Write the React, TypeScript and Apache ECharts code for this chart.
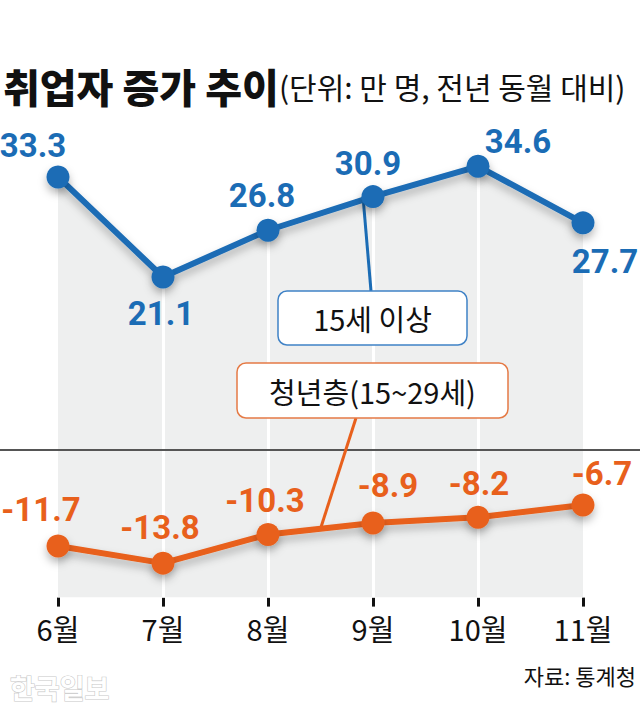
import React, { useEffect, useRef } from 'react';
import * as echarts from 'echarts';

const months = ['6월', '7월', '8월', '9월', '10월', '11월'];
const totalEmployed = [33.3, 21.1, 26.8, 30.9, 34.6, 27.7];
const youthEmployed = [-11.7, -13.8, -10.3, -8.9, -8.2, -6.7];
const seriesNames = ['15세 이상', '청년층(15~29세)'];
const titleMain = '취업자 증가 추이';
const titleUnit = '(단위: 만 명, 전년 동월 대비)';
const sourceText = '자료: 통계청';
const brandText = '한국일보';

const Y_MIN = -18;
const Y_MAX = 40;

const BLUE = '#1b6cb5';
const ORANGE = '#e8601c';
const AREA = '#eeefef';
const KR = '"Noto Sans CJK KR", "Noto Sans", sans-serif';
const NUM = 'Roboto, "Noto Sans", sans-serif';

const blueLabelOffsets = [[-25, -31], [-2, 37], [-6, -35], [-5, -33], [40, -25], [22, 39]];
const orangeLabelOffsets = [[-17, -36], [-3, -36], [-3, -34], [15, -37], [1, -34], [19, -31]];

const fmt = (v: number) => v.toFixed(1);

export default function App() {
  const ref = useRef<HTMLDivElement>(null);
  useEffect(() => {
    document.body.style.margin = '0';
    if (!ref.current) return;
    const chart = echarts.init(ref.current, null, { renderer: 'svg' });
    const shadow = { shadowColor: 'rgba(0,0,0,0.28)', shadowBlur: 8, shadowOffsetY: 5 };
    const option: any = {
      animation: false,
      backgroundColor: '#ffffff',
      grid: { left: 58, right: 57, top: 122, bottom: 116.4 },
      xAxis: {
        type: 'category',
        data: months,
        boundaryGap: false,
        axisLine: { show: true, onZero: false, lineStyle: { opacity: 0, width: 0 } },
        axisTick: { show: true, length: 9, lineStyle: { color: '#111', width: 3 } },
        axisLabel: { fontSize: 29, color: '#111', margin: 16, fontFamily: KR },
        splitLine: { show: false },
      },
      yAxis: {
        type: 'value',
        min: Y_MIN,
        max: Y_MAX,
        show: false,
        splitLine: { show: false },
      },
      series: [
        {
          type: 'line',
          data: totalEmployed,
          symbol: 'none',
          lineStyle: { width: 0, opacity: 0 },
          areaStyle: { color: AREA, origin: 'start', opacity: 1 },
          z: 1,
          silent: true,
          markLine: {
            silent: true,
            z: 2,
            symbol: ['none', 'none'],
            label: { show: false },
            lineStyle: { color: '#ffffff', width: 3, type: 'solid' },
            data: months.slice(1, -1).map((m, i) => [
              { coord: [m, Y_MIN] },
              { coord: [m, totalEmployed[i + 1]] },
            ]),
          },
        },
        {
          name: seriesNames[0],
          type: 'line',
          z: 4,
          data: totalEmployed.map((v, i) => ({ value: v, label: { offset: blueLabelOffsets[i] } })),
          symbol: 'circle',
          symbolSize: 23,
          lineStyle: { color: BLUE, width: 6, ...shadow },
          itemStyle: { color: BLUE, ...shadow },
          label: {
            show: true,
            position: 'inside',
            formatter: (p: any) => fmt(p.value),
            color: BLUE,
            fontSize: 33,
            fontWeight: 'bold',
            fontFamily: NUM,
          },
        },
        {
          name: seriesNames[1],
          type: 'line',
          z: 4,
          data: youthEmployed.map((v, i) => ({ value: v, label: { offset: orangeLabelOffsets[i] } })),
          symbol: 'circle',
          symbolSize: 23,
          lineStyle: { color: ORANGE, width: 6, ...shadow },
          itemStyle: { color: ORANGE, ...shadow },
          label: {
            show: true,
            position: 'inside',
            formatter: (p: any) => fmt(p.value),
            color: ORANGE,
            fontSize: 33,
            fontWeight: 'bold',
            fontFamily: NUM,
          },
        },
      ],
    };
    chart.setOption(option);

    const y0 = chart.convertToPixel({ yAxisIndex: 0 }, 0) as number;
    const p9 = chart.convertToPixel({ seriesIndex: 1 }, [3, totalEmployed[3]]) as number[];
    const o8 = chart.convertToPixel({ seriesIndex: 2 }, [2, youthEmployed[2]]) as number[];
    const o9 = chart.convertToPixel({ seriesIndex: 2 }, [3, youthEmployed[3]]) as number[];
    const oMid = [(o8[0] + o9[0]) / 2, (o8[1] + o9[1]) / 2];

    const blueBox = { x: 278, y: 291, w: 189, h: 54 };
    const orangeBox = { x: 237, y: 363, w: 271, h: 55 };

    chart.setOption({
      graphic: [
        {
          type: 'text',
          left: 3,
          top: 66,
          z: 10,
          style: {
            text: `{a|${titleMain}}{b|${titleUnit}}`,
            rich: {
              a: { fontSize: 40, fontWeight: 900, fontFamily: KR, fill: '#111', verticalAlign: 'middle' },
              b: { fontSize: 30, fontWeight: 400, fontFamily: KR, fill: '#111', verticalAlign: 'middle' },
            },
          },
        },
        {
          type: 'line',
          z: 3,
          silent: true,
          shape: { x1: 0, y1: y0, x2: 640, y2: y0 },
          style: { stroke: '#555', lineWidth: 2 },
        },
        {
          type: 'line',
          z: 3,
          shape: { x1: p9[0] - 10, y1: p9[1], x2: p9[0] - 2, y2: blueBox.y },
          style: { stroke: BLUE, lineWidth: 3 },
        },
        {
          type: 'line',
          z: 3,
          shape: { x1: 356, y1: orangeBox.y + orangeBox.h, x2: oMid[0], y2: oMid[1] },
          style: { stroke: ORANGE, lineWidth: 3 },
        },
        {
          type: 'rect',
          z: 6,
          shape: { x: blueBox.x, y: blueBox.y, width: blueBox.w, height: blueBox.h, r: 9 },
          style: { fill: '#fff', stroke: '#3f82c6', lineWidth: 1.5 },
        },
        {
          type: 'text',
          z: 7,
          x: blueBox.x + blueBox.w / 2,
          y: blueBox.y + blueBox.h / 2,
          style: {
            text: seriesNames[0],
            fontSize: 29,
            fontFamily: KR,
            fill: '#111',
            align: 'center',
            verticalAlign: 'middle',
          },
        },
        {
          type: 'rect',
          z: 6,
          shape: { x: orangeBox.x, y: orangeBox.y, width: orangeBox.w, height: orangeBox.h, r: 9 },
          style: { fill: '#fff', stroke: '#e57a45', lineWidth: 1.5 },
        },
        {
          type: 'text',
          z: 7,
          x: orangeBox.x + orangeBox.w / 2,
          y: orangeBox.y + orangeBox.h / 2,
          style: {
            text: seriesNames[1],
            fontSize: 29,
            fontFamily: KR,
            fill: '#111',
            align: 'center',
            verticalAlign: 'middle',
          },
        },
        {
          type: 'text',
          z: 7,
          x: 636,
          y: 675,
          style: {
            text: sourceText,
            fontSize: 22,
            fontFamily: KR,
            fill: '#111',
            align: 'right',
            verticalAlign: 'middle',
          },
        },
        {
          type: 'text',
          z: 7,
          x: 10,
          y: 687,
          style: {
            text: brandText,
            fontSize: 27,
            fontWeight: 'bold',
            fontFamily: KR,
            fill: '#ffffff',
            stroke: '#c8c8c8',
            lineWidth: 1.2,
            align: 'left',
            verticalAlign: 'middle',
          },
        },
      ],
    });

    return () => chart.dispose();
  }, []);
  return <div ref={ref} style={{ width: 640, height: 714 }} />;
}
